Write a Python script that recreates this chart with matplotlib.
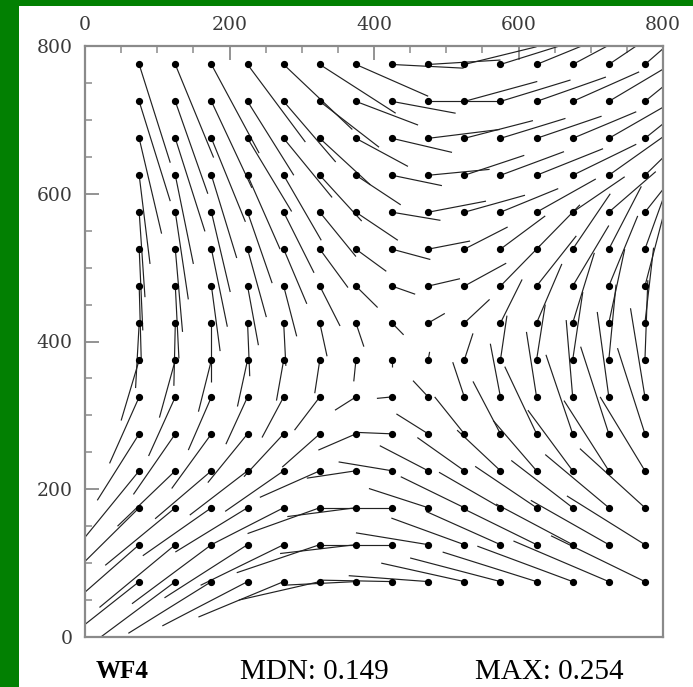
import matplotlib.pyplot as plt
from matplotlib.collections import LineCollection
from matplotlib.patches import Rectangle

# grid positions of the measured points (pixels on the chip)
GRID_X = [75, 125, 175, 225, 275, 325, 375, 425, 475, 525, 575, 625, 675, 725, 775]
GRID_Y = [775, 725, 675, 625, 575, 525, 475, 425, 375, 325, 275, 225, 175, 125, 75]

# displacement of each point (scaled), one row per GRID_Y value, top row first
U = [
    [43, 53, 66, 80, 95, 105, 100, 99, 100, 100, 98, 95, 92, 88, 82],
    [43, 45, 56, 64, 72, 82, 86, 88, 99, 101, 97, 96, 92, 86, 78],
    [31, 41, 47, 61, 67, 70, 72, 83, 99, 95, 90, 90, 88, 82, 74],
    [15, 25, 35, 45, 52, 58, 62, 69, 85, 83, 88, 92, 88, 75, 65],
    [8, 18, 26, 34, 42, 50, 58, 67, 80, 84, 80, 82, 72, 65, 55],
    [5, 10, 22, 26, 32, 39, 42, 53, 58, 60, 62, 60, 52, 45, 35],
    [3, 5, 12, 15, 18, 28, 30, 32, 44, 58, 55, 55, 50, 40, 28],
    [-5, -2, 0, 3, 3, 10, 11, 16, 23, 35, 30, 35, 30, 22, 12],
    [-25, -22, -18, -14, -10, -7, -3, 0, 2, 12, 9, 12, 14, 10, 4],
    [-41, -37, -32, -30, -30, -35, -29, -21, -21, -16, -14, -14, -9, -16, -20],
    [-58, -58, -55, -55, -55, -52, -52, -50, -44, -41, -38, -44, -37, -39, -38],
    [-75, -80, -78, -80, -81, -83, -68, -74, -67, -65, -60, -60, -62, -62, -62],
    [-95, -97, -95, -100, -100, -100, -95, -99, -82, -88, -85, -85, -85, -88, -90],
    [-105, -105, -110, -115, -115, -115, -105, -100, -100, -101, -103, -104, -106, -108, -108],
    [-110, -110, -115, -118, -118, -112, -102, -100, -110, -115, -125, -130, -132, -132, -130],
]
V = [
    [-133, -126, -120, -105, -88, -66, -43, -5, 6, 24, 30, 38, 48, 58, 70],
    [-135, -125, -117, -100, -82, -62, -32, -16, 0, 27, 29, 33, 40, 50, 62],
    [-129, -126, -113, -99, -80, -63, -38, -19, 12, 24, 27, 30, 36, 46, 58],
    [-120, -120, -112, -100, -88, -62, -40, -14, 8, 27, 32, 36, 42, 52, 62],
    [-115, -118, -108, -96, -82, -60, -38, -11, 15, 23, 32, 45, 48, 55, 68],
    [-110, -112, -105, -92, -74, -52, -30, -14, 11, 30, 45, 60, 75, 85, 95],
    [-105, -98, -88, -80, -68, -54, -29, -11, 10, 31, 55, 68, 82, 95, 105],
    [-88, -85, -80, -72, -58, -45, -32, -16, 13, 32, 59, 80, 95, 100, 102],
    [-82, -78, -70, -63, -55, -45, -29, -10, 11, 36, 60, 75, 92, 102, 108],
    [-90, -80, -72, -64, -55, -45, -18, -2, 22, 47, 72, 88, 104, 115, 120],
    [-90, -82, -74, -66, -58, -45, -22, 2, 27, 50, 71, 91, 107, 118, 116],
    [-90, -75, -65, -60, -55, -36, -10, 12, 34, 45, 55, 68, 82, 95, 100],
    [-92, -78, -65, -60, -50, -35, -12, 0, 26, 42, 48, 56, 64, 72, 80],
    [-90, -85, -80, -72, -55, -38, -12, 0, 16, 36, 45, 50, 55, 60, 66],
    [-85, -80, -70, -60, -48, -25, -5, 2, 8, 25, 32, 40, 48, 55, 62],
]

CHIP_NAME = "WF4"
MEDIAN_LABEL = "MDN: 0.149"
MAX_LABEL = "MAX: 0.254"
TICKS = [0, 200, 400, 600, 800]

GREEN = "#028002"
FRAME = "#8a8a8a"

fig = plt.figure(figsize=(6.93, 6.87), dpi=100)
fig.patch.set_facecolor(GREEN)
# white sheet behind everything, green left strip and top band stay visible
fig.patches.append(Rectangle((19 / 693, 0), 1 - 19 / 693, 681 / 687,
                             transform=fig.transFigure, facecolor="white",
                             edgecolor="none", zorder=-10))

ax = fig.add_axes([85 / 693, 50 / 687, 578 / 693, 591 / 687])
ax.set_zorder(1)
ax.set_facecolor("white")
ax.set_xlim(0, 800)
ax.set_ylim(0, 800)

# one straight segment from every grid point
segments = []
px, py = [], []
for row, y in enumerate(GRID_Y):
    for col, x in enumerate(GRID_X):
        segments.append([(x, y), (x + U[row][col], y + V[row][col])])
        px.append(x)
        py.append(y)

ax.add_collection(LineCollection(segments, colors="#222222", linewidths=0.85))
ax.plot(px, py, "o", color="black", markersize=4.2, linestyle="none")

for side in ax.spines.values():
    side.set_color(FRAME)
    side.set_linewidth(1.6)

serif = ["DejaVu Serif"]
ax.xaxis.set_ticks_position("top")
ax.set_xticks(TICKS)
ax.set_yticks(TICKS)
ax.set_xticks(range(0, 801, 50), minor=True)
ax.set_yticks(range(0, 801, 50), minor=True)
ax.tick_params(which="major", direction="in", length=10, width=1.3, color=FRAME,
               labelsize=13.5, labelcolor="#3a3a3a", pad=9)
ax.tick_params(which="minor", direction="in", length=5, width=1.1, color=FRAME)
ax.tick_params(axis="x", which="both", top=True, bottom=False)
ax.tick_params(axis="y", which="both", left=True, right=False)
for lab in ax.get_xticklabels() + ax.get_yticklabels():
    lab.set_family(serif)

fig.text(122 / 693, 1 - 672 / 687, CHIP_NAME, ha="center", va="center",
         fontsize=18, fontweight="bold", family=["Liberation Serif"])
fig.text(314 / 693, 1 - 672 / 687, MEDIAN_LABEL, ha="center", va="center",
         fontsize=21, family=["Liberation Serif"])
fig.text(549 / 693, 1 - 672 / 687, MAX_LABEL, ha="center", va="center",
         fontsize=21, family=["Liberation Serif"])

fig.savefig("out.png", dpi=100, facecolor=fig.get_facecolor())
